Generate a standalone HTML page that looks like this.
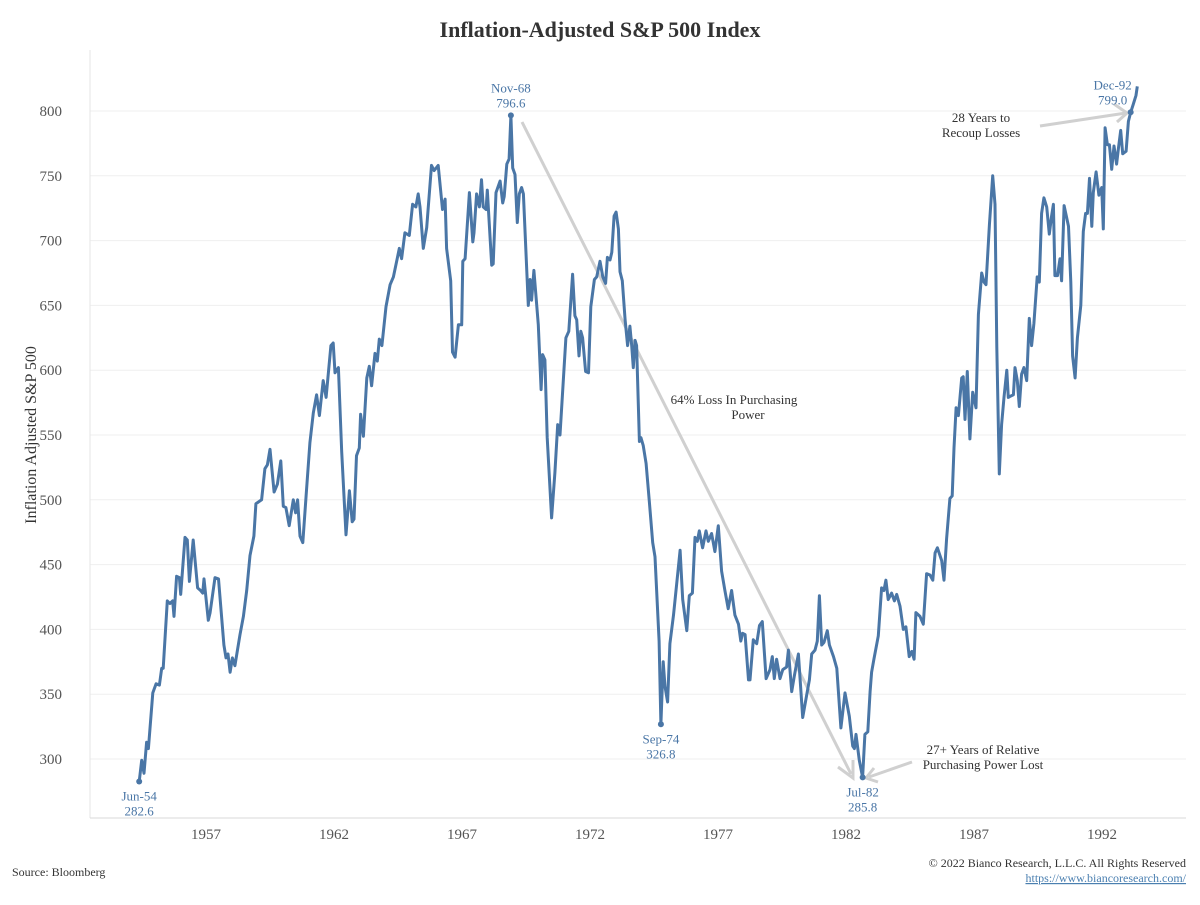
<!DOCTYPE html>
<html><head><meta charset="utf-8">
<style>
html,body{margin:0;padding:0;background:#fff;}
body{width:1200px;height:900px;position:relative;overflow:hidden;font-family:"Liberation Serif",serif;}
svg text{font-family:"Liberation Serif",serif;}
</style></head>
<body>
<svg id="chart" width="1200" height="900" xmlns="http://www.w3.org/2000/svg">
  <text x="600" y="37" text-anchor="middle" font-size="22" font-weight="bold" fill="#333">Inflation-Adjusted S&amp;P 500 Index</text>
  <text transform="translate(36,435) rotate(-90)" text-anchor="middle" font-size="16" fill="#333">Inflation Adjusted S&amp;P 500</text>
  <g id="grid"></g>
  <line x1="90" y1="50" x2="90" y2="818" stroke="#e6e6e6" stroke-width="1"/>
  <line x1="90" y1="818" x2="1186" y2="818" stroke="#d9d9d9" stroke-width="1"/>
  <g id="yticks"></g>
  <g id="xticks"></g>
  <g id="arrows">
    <line x1="522" y1="122" x2="851" y2="774" stroke="#d0d0d0" stroke-width="3"/>
    <polyline points="838,767 853,778 853,760" fill="none" stroke="#d0d0d0" stroke-width="3"/>
    <line x1="912" y1="762" x2="869" y2="777" stroke="#d0d0d0" stroke-width="3"/>
    <polyline points="874,768 866,778 878,782" fill="none" stroke="#d0d0d0" stroke-width="3"/>
    <line x1="1040" y1="126" x2="1126" y2="113" stroke="#d0d0d0" stroke-width="3"/>
    <polyline points="1114,104 1127,113 1117,122" fill="none" stroke="#d0d0d0" stroke-width="3"/>
  </g>
  <g id="series"></g>
  <g id="notes" font-size="13" fill="#333" text-anchor="middle">
    <text x="734" y="404">64% Loss In Purchasing</text>
    <text x="748" y="419">Power</text>
    <text x="983" y="754">27+ Years of Relative</text>
    <text x="983" y="769">Purchasing Power Lost</text>
    <text x="981" y="122">28 Years to</text>
    <text x="981" y="137">Recoup Losses</text>
  </g>
  <text x="12" y="876" font-size="12" fill="#333">Source: Bloomberg</text>
  <text x="1186" y="867" font-size="12" fill="#333" text-anchor="end">© 2022 Bianco Research, L.L.C. All Rights Reserved</text>
  <text x="1186" y="882" font-size="12" fill="#4a7fb0" text-anchor="end" text-decoration="underline">https://www.biancoresearch.com/</text>
</svg>
<script>
const years = [1954.39,1954.49,1954.58,1954.68,1954.75,1954.92,1955.05,1955.18,1955.27,1955.33,1955.49,1955.59,1955.70,1955.75,1955.85,1955.96,1956.01,1956.18,1956.27,1956.35,1956.50,1956.67,1956.79,1956.87,1956.92,1957.09,1957.16,1957.35,1957.49,1957.70,1957.78,1957.86,1957.94,1958.03,1958.13,1958.33,1958.46,1958.59,1958.72,1958.87,1958.95,1959.17,1959.30,1959.40,1959.50,1959.66,1959.79,1959.92,1960.02,1960.12,1960.25,1960.41,1960.50,1960.58,1960.67,1960.78,1960.91,1961.06,1961.19,1961.32,1961.43,1961.58,1961.69,1961.88,1961.97,1962.04,1962.17,1962.30,1962.47,1962.60,1962.71,1962.78,1962.88,1962.99,1963.04,1963.15,1963.28,1963.38,1963.47,1963.60,1963.69,1963.77,1963.87,1964.03,1964.19,1964.32,1964.47,1964.55,1964.64,1964.77,1964.94,1965.07,1965.20,1965.29,1965.36,1965.49,1965.62,1965.81,1965.91,1966.07,1966.24,1966.34,1966.40,1966.56,1966.63,1966.73,1966.86,1966.99,
1967.03,1967.12,1967.29,1967.42,1967.47,1967.57,1967.68,1967.76,1967.83,1967.94,1967.99,1968.16,1968.22,1968.33,1968.49,1968.59,1968.65,1968.75,1968.84,1968.91,1968.98,1969.07,1969.16,1969.24,1969.33,1969.40,1969.59,1969.66,1969.72,1969.81,1969.98,1970.09,1970.15,1970.24,1970.33,1970.50,1970.63,1970.74,1970.83,1971.06,1971.17,1971.32,1971.41,1971.48,1971.57,1971.64,1971.71,1971.83,1971.94,1972.03,1972.17,1972.26,1972.39,1972.50,1972.61,1972.68,1972.78,1972.85,1972.94,1973.02,1973.11,1973.17,1973.26,1973.37,1973.47,1973.56,1973.63,1973.69,1973.76,1973.82,1973.93,1973.99,1974.08,1974.19,1974.32,1974.45,1974.54,1974.70,1974.77,1974.86,1974.93,1975.03,1975.12,1975.26,1975.52,1975.62,1975.78,1975.88,1976.00,1976.10,1976.19,1976.27,1976.40,1976.53,1976.62,1976.75,1976.88,1977.01,1977.14,1977.27,1977.40,1977.53,1977.66,1977.80,1977.89,1977.96,1978.06,1978.19,1978.25,1978.38,1978.51,1978.62,1978.73,1978.88,1979.03,1979.12,1979.20,1979.29,1979.42,1979.53,1979.68,1979.75,1979.88,1979.98,1980.14,1980.31,1980.46,1980.57,1980.66,1980.79,1980.88,1980.96,
1981.05,1981.14,1981.27,1981.35,1981.51,1981.64,1981.80,1981.96,1982.13,1982.26,1982.33,1982.39,1982.52,1982.65,1982.74,1982.85,1982.94,1983.00,1983.09,1983.26,1983.39,1983.48,1983.56,1983.65,1983.78,1983.89,1983.98,1984.11,1984.24,1984.34,1984.47,1984.57,1984.66,1984.73,1984.89,1985.02,1985.15,1985.28,1985.39,1985.48,1985.57,1985.74,1985.83,1985.93,1986.06,1986.15,1986.22,1986.30,1986.39,1986.52,1986.58,1986.65,1986.74,1986.84,1986.95,1987.08,1987.17,1987.30,1987.39,1987.47,1987.60,1987.73,1987.82,1987.89,1987.99,1988.08,1988.17,1988.28,1988.34,1988.43,1988.54,1988.60,1988.69,1988.77,1988.86,1988.95,1989.06,1989.16,1989.25,1989.34,1989.47,1989.55,1989.64,1989.73,1989.84,1989.94,1990.03,1990.10,1990.16,1990.26,1990.36,1990.42,1990.52,1990.69,1990.78,1990.85,1990.95,1991.04,1991.17,1991.27,1991.36,1991.43,1991.51,1991.60,1991.66,1991.77,1991.88,1991.99,1992.05,1992.12,1992.21,1992.29,1992.38,1992.47,1992.57,1992.64,1992.73,1992.81,1992.94,1993.03,1993.12,1993.22,1993.33,1993.38];
const values = [282.6,299,289,313,308,351,358,357,370,370,422,420,422,410,441,440,427,471,469,437,469,432,430,428,439,407,413,440,439,388,378,381,367,378,372,396,410,430,457,472,497,500,524,527,539,506,512,530,495,494,480,500,490,500,472,467,503,544,567,581,565,592,579,619,621,598,602,537,473,507,483,485,534,540,566,549,594,603,588,613,607,624,619,649,666,672,686,694,686,706,704,728,726,736,726,694,710,758,754,758,724,732,694,669,614,610,635,635,
684,686,737,699,706,736,726,747,726,724,739,681,682,737,746,729,734,759,763,796.6,756,751,714,736,741,736,650,670,654,677,635,585,612,608,548,486,521,558,550,625,630,674,642,639,611,630,625,599,598,649,670,672,684,672,667,687,685,691,719,722,709,676,669,639,619,634,619,602,623,619,545,548,542,528,498,467,456,391,326.8,375,356,344,389,411,461,423,399,426,428,471,468,476,463,476,468,474,460,480,445,430,416,430,411,404,391,397,396,361,361,392,389,403,406,362,369,379,362,377,362,369,371,384,352,364,381,332,349,361,381,384,391,426,
388,390,399,388,379,370,324,351,333,310,308,319,299,285.8,319,321,352,367,377,395,432,430,438,423,428,422,427,418,400,402,379,383,377,413,410,404,443,442,438,459,463,453,438,470,501,503,540,571,565,594,595,562,599,547,583,571,643,675,668,666,712,750,728,618,520,558,579,600,579,580,581,602,592,572,597,602,592,640,619,636,672,668,721,733,726,705,719,728,673,673,686,669,727,711,668,611,594,625,650,707,721,721,748,711,737,753,735,741,709,787,774,774,755,773,759,771,785,767,769,792,799.0,805,812,819];
const yTicks = [300,350,400,450,500,550,600,650,700,750,800];
const xTicks = [1957,1962,1967,1972,1977,1982,1987,1992];
const noteLabels = ["Jun-54","Nov-68","Sep-74","Jul-82","Dec-92"];
const noteIdx = [0, values.indexOf(796.6), values.indexOf(326.8), values.indexOf(285.8), values.indexOf(799.0)];
const notePos = ["below","above","below","below","above"];
const noteShift = [0,0,0,0,-18];

const NS="http://www.w3.org/2000/svg";
const xs = y => 206 + (y-1957)*25.6;
const ys = v => 111 + (800-v)*1.296;
function mk(tag, attrs, parent){const e=document.createElementNS(NS,tag);for(const k in attrs)e.setAttribute(k,attrs[k]);parent.appendChild(e);return e;}
const grid=document.getElementById('grid'), yt=document.getElementById('yticks'), xt=document.getElementById('xticks'), ser=document.getElementById('series');
yTicks.forEach(v=>{
  const l=mk('line',{x1:90,x2:1186,y1:ys(v),y2:ys(v),stroke:'#efefef','stroke-width':1},grid);
  
  
  const t=mk('text',{x:62,y:ys(v)+5,'text-anchor':'end','font-size':15,fill:'#555'},yt);
  t.textContent=v;
  
  
});
xTicks.forEach(y=>{
  const t=mk('text',{x:xs(y),y:839,'text-anchor':'middle','font-size':15,fill:'#555'},xt);
  t.textContent=y;
  
  
});
let d='';
years.forEach((y,i)=>{d+=(i?'L':'M')+xs(y).toFixed(1)+','+ys(values[i]).toFixed(1);});
const p=mk('path',{d:d,fill:'none',stroke:'#4a76a6','stroke-width':3,'stroke-linejoin':'round'},ser);


noteIdx.forEach((idx,k)=>{
  const cx=xs(years[idx]), cy=ys(values[idx]);
  const c=mk('circle',{cx:cx,cy:cy,r:3,fill:'#4a76a6'},ser);
  
  
  const above=notePos[k]==='above';
  const tx=cx+noteShift[k];
  const y1=above?cy-23:cy+19, y2=above?cy-8:cy+34;
  const t1=mk('text',{x:tx,y:y1,'text-anchor':'middle','font-size':13,fill:'#4a76a6'},ser);
  t1.textContent=noteLabels[k];
  
  
  const t2=mk('text',{x:tx,y:y2,'text-anchor':'middle','font-size':13,fill:'#4a76a6'},ser);
  t2.textContent=values[idx].toFixed(1);
  
  
});
</script>
</body></html>
